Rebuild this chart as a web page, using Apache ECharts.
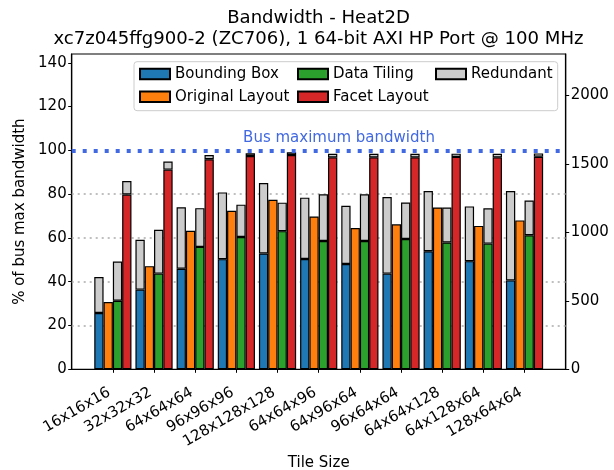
<!DOCTYPE html>
<html>
<head>
<meta charset="utf-8">
<script src="https://cdn.jsdelivr.net/npm/echarts@6/dist/echarts.min.js"></script>
<style>
html, body { margin: 0; padding: 0; background: #fff; }
#chart-container { width: 614px; height: 470px; }
</style>
</head>
<body>
<div id="chart-container"></div>
<script>
var tileSizes = ['16x16x16', '32x32x32', '64x64x64', '96x96x96', '128x128x128', '64x64x96',
                 '64x96x64', '96x64x64', '64x64x128', '64x128x64', '128x64x64'];

// % of bus max bandwidth
var boundingBox          = [25.7, 36.4, 45.9, 50.3, 52.9, 50.4, 48.1, 43.7, 53.9, 49.4, 40.6];
var boundingBoxRedundant = [16.4, 22.8, 28.1, 30.5, 32.2, 28.0, 26.6, 35.0, 27.5, 25.0, 40.8];
var originalLayout       = [30.7, 47.1, 63.3, 72.4, 77.4, 69.8, 64.5, 66.2, 73.9, 65.5, 68.0];
var dataTiling           = [31.3, 43.7, 55.9, 60.4, 63.1, 58.6, 58.6, 59.5, 57.9, 57.4, 61.2];
var dataTilingRedundant  = [17.9, 20.0, 17.7, 14.8, 13.0, 21.3, 21.3, 16.7, 16.0, 16.1, 15.9];
var facetLayout          = [79.8, 91.2, 95.9, 97.4, 97.9, 96.8, 96.8, 96.8, 97.0, 96.8, 97.1];
var facetLayoutRedundant = [ 6.2,  3.7,  2.0,  1.3,  1.2,  1.6,  1.6,  1.6,  1.5,  1.6,  1.5];

var busMax = 100;
var gridValues = [20, 40, 60, 80];
var leftTicks = [0, 20, 40, 60, 80, 100, 120, 140];
var rightTicks = [0, 500, 1000, 1500, 2000];
var busMaxMBs = 1600;

var FONT = 'DejaVu Sans';
var FS = 15;

// one empty slot at each end gives matplotlib-like side margins
function pad(arr) { return [null].concat(arr, [null]); }
var cats = [''].concat(tileSizes, ['']);
function inner(index) { return index > 0 && index < cats.length - 1; }

var dom = document.getElementById('chart-container');
var myChart = echarts.init(dom, null, { renderer: 'canvas' });

function barSeries(name, data, stack, color) {
    return {
        name: name,
        type: 'bar',
        stack: stack,
        data: pad(data),
        barWidth: 9.3,
        barGap: '0%',
        itemStyle: { color: color, borderColor: '#000', borderWidth: 1.2 },
        emphasis: { disabled: true },
        animation: false
    };
}

var legendCommon = {
    orient: 'vertical',
    top: 66.5,
    padding: 0,
    itemWidth: 30,
    itemHeight: 10.5,
    itemGap: 7.7,
    icon: 'rect',
    selectedMode: false,
    textStyle: { fontFamily: FONT, fontSize: FS, color: '#000', lineHeight: 15 }
};

var option = {
    animation: false,
    textStyle: { fontFamily: FONT },
    title: {
        text: 'Bandwidth - Heat2D\nxc7z045ffg900-2 (ZC706), 1 64-bit AXI HP Port @ 100 MHz',
        left: 318.5,
        textAlign: 'center',
        top: 7.2,
        padding: 0,
        textStyle: { fontFamily: FONT, fontSize: 18.1, fontWeight: 'normal', color: '#000', lineHeight: 21.7 }
    },
    legend: [
        Object.assign({}, legendCommon, { left: 139, data: ['Bounding Box', 'Original Layout'] }),
        Object.assign({}, legendCommon, { left: 297, data: ['Data Tiling', 'Facet Layout'] }),
        Object.assign({}, legendCommon, { left: 435, data: ['Redundant'] })
    ],
    graphic: [
        {
            type: 'rect', z: 1,
            shape: { x: 134, y: 61.7, width: 423.7, height: 49, r: 3 },
            style: { fill: 'rgba(255,255,255,0.8)', stroke: '#cccccc', lineWidth: 1 }
        },
        {
            type: 'text', z: 10,
            x: 339, y: 138,
            style: {
                text: 'Bus maximum bandwidth', fill: '#4169e1',
                font: FS + 'px "' + FONT + '"', align: 'center', verticalAlign: 'middle'
            }
        }
    ],
    grid: {
        left: 71.7, right: 48.3, top: 54, bottom: 100.7,
        outerBoundsMode: 'none',
        containLabel: false,
        show: true, borderColor: '#000', borderWidth: 1.2, backgroundColor: 'transparent'
    },
    xAxis: {
        type: 'category',
        data: cats,
        boundaryGap: false,
        axisLine: { lineStyle: { color: '#000', width: 1.2 } },
        axisTick: { length: 3.5, interval: inner, lineStyle: { color: '#000', width: 1 } },
        axisLabel: {
            rotate: 30, interval: inner, margin: 20, padding: [0, 4, 0, 0],
            fontFamily: FONT, fontSize: FS, color: '#000'
        },
        splitLine: { show: false },
        name: 'Tile Size',
        nameLocation: 'middle',
        nameGap: 81,
        nameTextStyle: { fontFamily: FONT, fontSize: FS, color: '#000' }
    },
    yAxis: [
        {
            type: 'value', position: 'left',
            min: 0, max: 144,
            axisLine: { show: true, lineStyle: { color: '#000', width: 1.2 } },
            axisTick: { show: true, length: 3.5, customValues: leftTicks, lineStyle: { color: '#000' } },
            axisLabel: { customValues: leftTicks, margin: 5, fontFamily: FONT, fontSize: FS, color: '#000' },
            splitLine: { show: false },
            name: '% of bus max bandwidth',
            nameLocation: 'middle',
            nameRotate: 90,
            nameGap: 44.5,
            nameTextStyle: { fontFamily: FONT, fontSize: FS, color: '#000' }
        },
        {
            type: 'value', position: 'right',
            min: 0, max: 144 * busMaxMBs / busMax,
            axisLine: { show: true, lineStyle: { color: '#000', width: 1.2 } },
            axisTick: { show: true, length: 3.5, customValues: rightTicks, lineStyle: { color: '#000' } },
            axisLabel: {
                customValues: rightTicks, margin: 5, fontFamily: FONT, fontSize: FS, color: '#000',
                formatter: function (v) { return String(v); }
            },
            splitLine: { show: false }
        }
    ],
    series: [
        barSeries('Bounding Box', boundingBox, 'bb', '#1f77b4'),
        barSeries('Original Layout', originalLayout, 'ol', '#ff7f0e'),
        barSeries('Data Tiling', dataTiling, 'dt', '#2ca02c'),
        barSeries('Facet Layout', facetLayout, 'fl', '#d62728'),
        barSeries('Redundant', boundingBoxRedundant, 'bb', '#cccccc'),
        barSeries('Redundant', dataTilingRedundant, 'dt', '#cccccc'),
        barSeries('Redundant', facetLayoutRedundant, 'fl', '#cccccc'),
        {
            name: 'grid', type: 'line', data: [], silent: true,
            markLine: {
                z: 1, silent: true, symbol: 'none', animation: false,
                label: { show: false },
                lineStyle: { color: '#aaaaaa', width: 1.6, type: [2, 4], cap: 'butt' },
                emphasis: { disabled: true },
                data: gridValues.map(function (v) { return { yAxis: v }; })
            }
        },
        {
            name: 'bus', type: 'line', data: [], silent: true,
            markLine: {
                z: 5, silent: true, symbol: 'none', animation: false,
                label: { show: false },
                lineStyle: { color: '#4169e1', width: 4, type: [4, 7], cap: 'butt' },
                emphasis: { disabled: true },
                data: [{ yAxis: busMax }]
            }
        }
    ]
};

myChart.setOption(option);
window.addEventListener('resize', myChart.resize);
</script>
</body>
</html>
